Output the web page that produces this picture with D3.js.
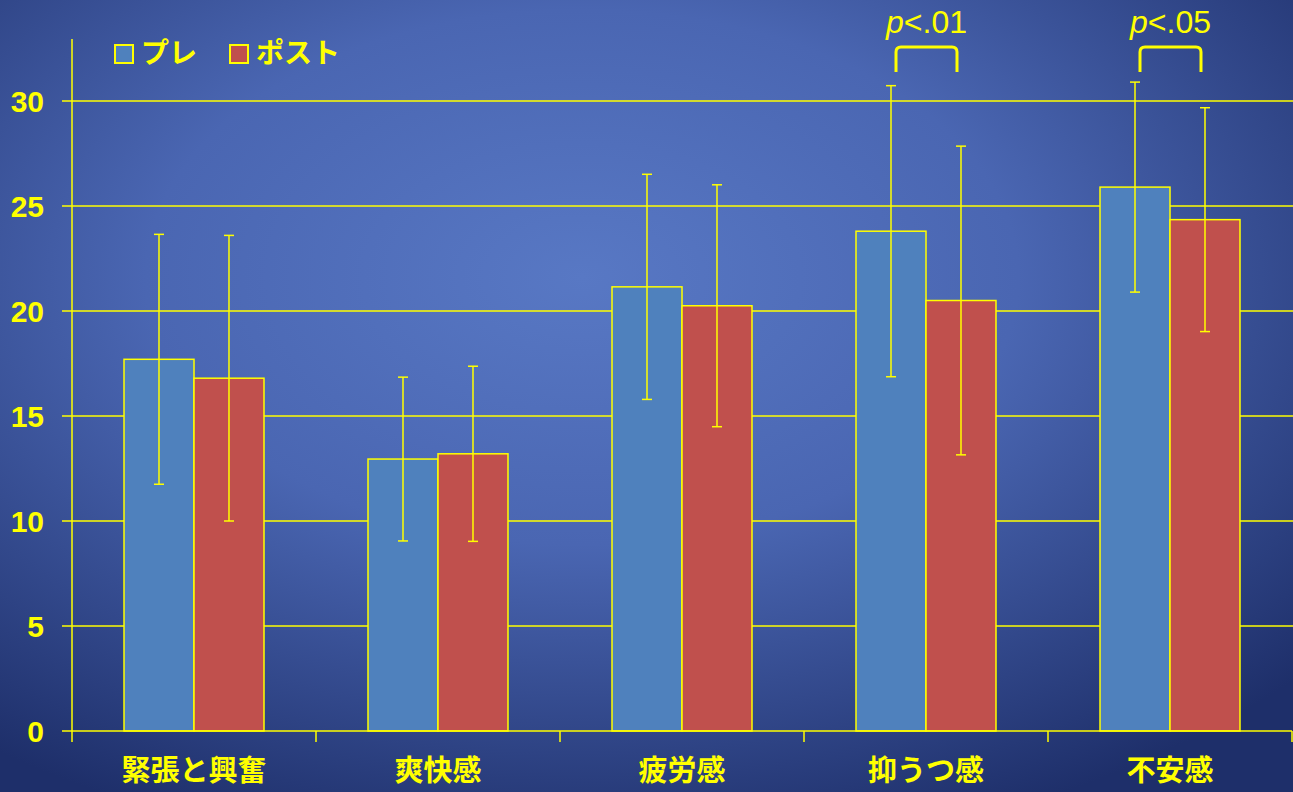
<!doctype HTML>
<html lang='ja'>
<head>
	<meta charset='utf-8'>
	<title>プレ・ポスト 気分尺度</title>
	<script src='https://d3js.org/d3.v7.min.js'></script>
	<style>
		html, body { margin: 0; padding: 0; overflow: hidden; background: #2a3f80; }
		svg { display: block; }
		.lbl { fill: #ffff00; font-family: 'Liberation Sans', Arial, 'Noto Sans CJK JP', sans-serif; font-weight: bold; }
		.cjk { fill: #ffff00; font-family: 'Noto Sans CJK JP', sans-serif; font-weight: bold; }
	</style>
</head>
<body>
	<div id='container'></div>
	<script>
		// Data
		const categories = ['緊張と興奮', '爽快感', '疲労感', '抑うつ感', '不安感'];
		const series = ['プレ', 'ポスト'];
		const preMean = [17.7, 12.95, 21.15, 23.8, 25.9];
		const preSD = [5.95, 3.9, 5.36, 6.93, 5.0];
		const postMean = [16.8, 13.2, 20.25, 20.5, 24.35];
		const postSD = [6.8, 4.17, 5.76, 7.35, 5.33];
		const yTicks = [0, 5, 10, 15, 20, 25, 30];
		const sigCats = ['抑うつ感', '不安感'];
		const sigLabels = ['.01', '.05'];

		const W = 1293, H = 792;
		const colors = d3.scaleOrdinal().domain(series).range(['#4f81bd', '#c0504d']);
		const yellow = '#ffff00';

		const x0 = d3.scaleBand().domain(categories).range([72, 1292]).padding(0);
		const x1 = d3.scaleBand().domain(series).range([0, x0.bandwidth()]).paddingInner(0).paddingOuter(0.743);
		const y = d3.scaleLinear().domain([0, 30]).range([731, 101]);

		const svg = d3.select('#container').append('svg')
			.attr('width', W)
			.attr('height', H);

		// Background gradient
		const defs = svg.append('defs');
		const grad = defs.append('radialGradient')
			.attr('id', 'bg')
			.attr('cx', '45%').attr('cy', '35%').attr('r', '75%');
		grad.append('stop').attr('offset', '0%').attr('stop-color', '#5878c4');
		grad.append('stop').attr('offset', '45%').attr('stop-color', '#4a66b2');
		grad.append('stop').attr('offset', '100%').attr('stop-color', '#1e2f6a');
		svg.append('rect').attr('width', W).attr('height', H).attr('fill', 'url(#bg)');

		// Grid lines
		svg.append('g')
			.selectAll('line')
			.data(yTicks.filter(d => d > 0))
			.enter().append('line')
			.attr('x1', 62).attr('x2', W)
			.attr('y1', d => y(d)).attr('y2', d => y(d))
			.attr('stroke', yellow).attr('stroke-width', 1.5);

		// Y tick labels
		svg.append('g')
			.selectAll('text')
			.data(yTicks)
			.enter().append('text')
			.attr('class', 'lbl')
			.attr('x', 44)
			.attr('y', d => y(d) + 11)
			.attr('text-anchor', 'end')
			.style('font-size', '30px')
			.text(d => d);

		// Bars
		const rows = categories.map((c, i) => ({
			cat: c,
			vals: [
				{key: series[0], value: preMean[i], sd: preSD[i]},
				{key: series[1], value: postMean[i], sd: postSD[i]}
			]
		}));

		const group = svg.append('g')
			.selectAll('g')
			.data(rows)
			.enter().append('g')
			.attr('transform', d => 'translate(' + x0(d.cat) + ',0)');

		group.selectAll('rect')
			.data(d => d.vals)
			.enter().append('rect')
			.attr('x', d => x1(d.key))
			.attr('y', d => y(d.value))
			.attr('width', x1.bandwidth())
			.attr('height', d => y(0) - y(d.value))
			.attr('fill', d => colors(d.key))
			.attr('stroke', yellow)
			.attr('stroke-width', 1.5);

		// Error bars
		const err = group.selectAll('g.err')
			.data(d => d.vals)
			.enter().append('g')
			.attr('class', 'err')
			.attr('stroke', yellow)
			.attr('stroke-width', 1.5);
		const cx = d => x1(d.key) + x1.bandwidth() / 2;
		err.append('line')
			.attr('x1', cx).attr('x2', cx)
			.attr('y1', d => y(d.value + d.sd)).attr('y2', d => y(d.value - d.sd));
		err.append('line')
			.attr('x1', d => cx(d) - 5).attr('x2', d => cx(d) + 5)
			.attr('y1', d => y(d.value + d.sd)).attr('y2', d => y(d.value + d.sd));
		err.append('line')
			.attr('x1', d => cx(d) - 5).attr('x2', d => cx(d) + 5)
			.attr('y1', d => y(d.value - d.sd)).attr('y2', d => y(d.value - d.sd));

		// Axes
		const ax = svg.append('g').attr('stroke', yellow).attr('stroke-width', 1.5);
		ax.append('line').attr('x1', 72).attr('x2', 72).attr('y1', 39).attr('y2', 742);
		ax.append('line').attr('x1', 62).attr('x2', 1292).attr('y1', y(0)).attr('y2', y(0));
		ax.selectAll('line.tk')
			.data(categories.slice(1).map(c => x0(c)).concat([x0.range()[1]]))
			.enter().append('line')
			.attr('class', 'tk')
			.attr('x1', d => d).attr('x2', d => d)
			.attr('y1', y(0)).attr('y2', 742);

		// Category labels
		svg.append('g')
			.selectAll('text')
			.data(categories)
			.enter().append('text')
			.attr('class', 'cjk')
			.attr('x', d => x0(d) + x0.bandwidth() / 2)
			.attr('y', 781)
			.attr('text-anchor', 'middle')
			.style('font-size', '29px')
			.text(d => d);

		// Significance brackets
		sigCats.forEach((c, i) => {
			const a = x0(c) + x1(series[0]) + x1.bandwidth() / 2 + 5;
			const b = x0(c) + x1(series[1]) + x1.bandwidth() / 2 - 4;
			svg.append('path')
				.attr('d', 'M' + a + ',72 L' + a + ',52 Q' + a + ',47 ' + (a + 5) + ',47 L' + (b - 5) + ',47 Q' + b + ',47 ' + b + ',52 L' + b + ',72')
				.attr('fill', 'none')
				.attr('stroke', yellow)
				.attr('stroke-width', 3);
			const t = svg.append('text')
				.attr('x', (a + b) / 2)
				.attr('y', 33)
				.attr('text-anchor', 'middle')
				.attr('fill', yellow)
				.style('font-family', "'Liberation Sans', Arial, sans-serif")
				.style('font-size', '32px');
			t.append('tspan').attr('font-style', 'italic').text('p');
			t.append('tspan').text('<' + sigLabels[i]);
		});

		// Legend
		const legend = svg.append('g')
			.selectAll('g')
			.data(series)
			.enter().append('g')
			.attr('transform', (d, i) => 'translate(' + (115 + i * 115) + ',45)');
		legend.append('rect')
			.attr('width', 18).attr('height', 18)
			.attr('fill', colors)
			.attr('stroke', yellow).attr('stroke-width', 2);
		legend.append('text')
			.attr('class', 'cjk')
			.attr('x', 26).attr('y', 18)
			.style('font-size', '28px')
			.text(d => d);
	</script>
</body>
</html>
